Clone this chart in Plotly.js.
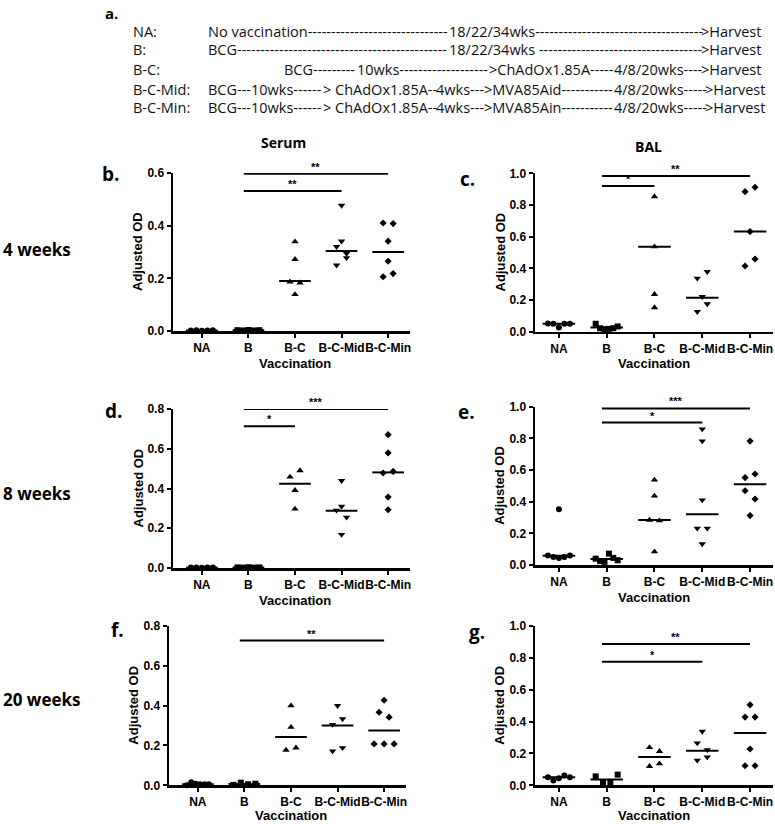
<!DOCTYPE html>
<html>
<head>
<meta charset="utf-8">
<script src="https://cdn.plot.ly/plotly-3.0.1.min.js"></script>
<style>body{margin:0;background:#fff}</style>
</head>
<body>
<div id="chart" style="width:775px;height:824px"></div>
<script>
const categories = ['NA', 'B', 'B-C', 'B-C-Mid', 'B-C-Min'];

// values of each group, listed left to right as they sit in the panel
const serum4wk = [
  [0.002, 0.003, 0.001, 0.002, 0.003],
  [0.003, 0.002, 0.004, 0.002, 0.003],
  [0.339, 0.272, 0.187, 0.183, 0.139],
  [0.477, 0.341, 0.32, 0.294, 0.25, 0.278],
  [0.41, 0.408, 0.341, 0.265, 0.206, 0.218]
];
const serum4wkMedian = [0.002, 0.003, 0.19, 0.304, 0.30];
const serum4wkSig = [[1, 4, 0.597, '**'], [1, 3, 0.532, '**']];

const bal4wk = [
  [0.052, 0.05, 0.027, 0.05, 0.05],
  [0.05, 0.022, 0.015, 0.018, 0.022, 0.033],
  [0.853, 0.537, 0.236, 0.152],
  [0.337, 0.379, 0.221, 0.126, 0.175],
  [0.884, 0.912, 0.632, 0.415, 0.459]
];
const bal4wkMedian = [0.05, 0.027, 0.537, 0.215, 0.632];
const bal4wkSig = [[1, 4, 0.983, '**'], [1, 2, 0.92, '*']];

const serum8wk = [
  [0.002, 0.003, 0.001, 0.003, 0.002],
  [0.003, 0.002, 0.004, 0.002, 0.003],
  [0.458, 0.49, 0.391, 0.297],
  [0.439, 0.31, 0.29, 0.255, 0.168],
  [0.671, 0.579, 0.478, 0.486, 0.357, 0.293]
];
const serum8wkMedian = [0.002, 0.003, 0.424, 0.288, 0.481];
const serum8wkSig = [[1, 4, 0.80, '***'], [1, 2, 0.713, '*']];

const bal8wk = [
  [0.352, 0.06, 0.05, 0.045, 0.05, 0.06],
  [0.04, 0.025, 0.02, 0.072, 0.045, 0.03],
  [0.537, 0.436, 0.284, 0.28, 0.084],
  [0.859, 0.783, 0.41, 0.232, 0.232, 0.133],
  [0.783, 0.552, 0.575, 0.469, 0.417, 0.312]
];
const bal8wkMedian = [0.058, 0.038, 0.284, 0.32, 0.51];
const bal8wkSig = [[1, 4, 0.989, '***'], [1, 3, 0.90, '*']];

const serum20wk = [
  [0.0, 0.015, 0.008, 0.005, 0.005, 0.005],
  [0.002, 0.013, 0.005, 0.008],
  [0.40, 0.292, 0.177, 0.188],
  [0.40, 0.305, 0.333, 0.172, 0.188],
  [0.427, 0.367, 0.342, 0.208, 0.208, 0.208]
];
const serum20wkMedian = [0.005, 0.006, 0.242, 0.30, 0.275];
const serum20wkSig = [[1, 4, 0.727, '**']];

const bal20wk = [
  [0.05, 0.03, 0.045, 0.062, 0.05],
  [0.056, 0.019, 0.019, 0.067],
  [0.238, 0.213, 0.119, 0.136],
  [0.338, 0.265, 0.223, 0.157, 0.177],
  [0.505, 0.428, 0.428, 0.228, 0.123, 0.123]
];
const bal20wkMedian = [0.05, 0.036, 0.177, 0.217, 0.328];
const bal20wkSig = [[1, 4, 0.887, '**'], [1, 3, 0.775, '*']];

const rowLabels = ['NA:', 'B:', 'B-C:', 'B-C-Mid:', 'B-C-Min:'];
const schedules = [
  ['No vaccination', '18/22/34wks', '>Harvest'],
  ['BCG', '18/22/34wks ', '>Harvest'],
  ['BCG', '10wks', '>ChAdOx1.85A', '4/8/20wks', '>Harvest'],
  ['BCG', '10wks', '> ChAdOx1.85A', '4wks', '>MVA85Aid', '4/8/20wks', '>Harvest'],
  ['BCG', '10wks', '> ChAdOx1.85A', '4wks', '>MVA85Ain', '4/8/20wks', '>Harvest']
];
const timepoints = ['4 weeks', '8 weeks', '20 weeks'];
const sampleTypes = ['Serum', 'BAL'];

const W = 775, H = 824;
const px = x => x / W;
const py = y => 1 - y / H;

const symbols = ['circle', 'square', 'triangle-up', 'triangle-down', 'diamond'];
const sizes = [6, 6, 6.5, 6.5, 5.5];
const tickFont = {family: 'Liberation Sans, Arial, sans-serif', size: 12, color: '#000', weight: 700};
const boldSans = {family: 'Open Sans, sans-serif', color: '#000', weight: 700};

const panels = [
  {vals: serum4wk, med: serum4wkMedian, sig: serum4wkSig, top: 0.6, box: [173, 410, 173, 331], xr: [-0.62, 4.47], letter: 'b.', lx: 100, ly: 173.5},
  {vals: bal4wk, med: bal4wkMedian, sig: bal4wkSig, top: 1.0, box: [535, 773, 173.3, 331.7], xr: [-0.5, 4.48], letter: 'c.', lx: 458, ly: 178.5},
  {vals: serum8wk, med: serum8wkMedian, sig: serum8wkSig, top: 0.8, box: [173, 410, 409, 568], xr: [-0.62, 4.47], letter: 'd.', lx: 103, ly: 410.5},
  {vals: bal8wk, med: bal8wkMedian, sig: bal8wkSig, top: 1.0, box: [535, 773, 406.7, 565], xr: [-0.5, 4.48], letter: 'e.', lx: 456, ly: 411.5},
  {vals: serum20wk, med: serum20wkMedian, sig: serum20wkSig, top: 0.8, box: [169, 406, 626, 785.3], xr: [-0.62, 4.47], letter: 'f.', lx: 109, ly: 629.5},
  {vals: bal20wk, med: bal20wkMedian, sig: bal20wkSig, top: 1.0, box: [535, 773, 626, 785.3], xr: [-0.5, 4.48], letter: 'g.', lx: 467, ly: 631.5}
];

// spread points that share a level side by side, like the prism scatter
function spread(vals, pxY) {
  const order = vals.map((v, k) => k).sort((a, b) => vals[a] - vals[b]);
  const rows = [];
  order.forEach(k => {
    const row = rows[rows.length - 1];
    if (row && (vals[k] - vals[row[0]]) * pxY <= 9) row.push(k);
    else rows.push([k]);
  });
  const off = new Array(vals.length).fill(0);
  rows.forEach(row => {
    row.sort((a, b) => a - b);
    const step = row.length > 1 ? Math.min(10, 22 / (row.length - 1)) : 0;
    row.forEach((k, j) => { off[k] = (j - (row.length - 1) / 2) * step; });
  });
  return off;
}

const traces = [];
const annotations = [];
const layout = {
  width: W, height: H,
  margin: {l: 0, r: 0, t: 0, b: 0},
  paper_bgcolor: '#fff', plot_bgcolor: 'rgba(0,0,0,0)',
  showlegend: false,
  annotations: annotations
};

function note(text, x, y, font, extra) {
  annotations.push(Object.assign({
    text: text, xref: 'paper', yref: 'paper', x: px(x), y: py(y),
    showarrow: false, xanchor: 'center', yanchor: 'middle', font: font
  }, extra || {}));
}

panels.forEach((p, i) => {
  const sfx = i === 0 ? '' : String(i + 1);
  const xa = 'x' + sfx, ya = 'y' + sfx;
  const [l, r, t, b] = p.box;
  const pxX = (r - l) / (p.xr[1] - p.xr[0]);
  const pxY = (b - t) / p.top;

  p.vals.forEach((vals, g) => {
    const off = spread(vals, pxY);
    traces.push({
      type: 'scatter', mode: 'markers', xaxis: xa, yaxis: ya,
      x: off.map(o => g + o / pxX), y: vals, cliponaxis: false, hoverinfo: 'skip',
      marker: {symbol: symbols[g], size: sizes[g], color: '#000'}
    });
  });

  const mx = [], my = [];
  p.med.forEach((m, g) => { mx.push(g - 0.34, g + 0.34, null); my.push(m, m, null); });
  traces.push({type: 'scatter', mode: 'lines', xaxis: xa, yaxis: ya, x: mx, y: my,
    cliponaxis: false, hoverinfo: 'skip', line: {color: '#000', width: 2}});

  p.sig.forEach(([from, to, h, stars]) => {
    traces.push({type: 'scatter', mode: 'lines', xaxis: xa, yaxis: ya,
      x: [from - 0.1, to], y: [h, h], cliponaxis: false, hoverinfo: 'skip',
      line: {color: '#000', width: 2}});
    annotations.push({text: stars, xref: xa, yref: ya, x: (from - 0.1 + to) / 2, y: h,
      showarrow: false, xanchor: 'center', yanchor: 'bottom', yshift: -1,
      font: {family: 'Liberation Sans, Arial, sans-serif', size: 11, color: '#000', weight: 700}});
  });

  layout['xaxis' + sfx] = {
    domain: [px(l), px(r)], range: p.xr, anchor: ya,
    showline: true, linecolor: '#000', linewidth: 2.5,
    ticks: 'outside', ticklen: 4, tickwidth: 2, tickcolor: '#000',
    tickmode: 'array', tickvals: [0, 1, 2, 3, 4], ticktext: categories, tickangle: 0,
    tickfont: tickFont, showgrid: false, zeroline: false, fixedrange: true
  };
  layout['yaxis' + sfx] = {
    domain: [py(b), py(t)], range: [0, p.top], anchor: xa,
    showline: true, linecolor: '#000', linewidth: 2.5,
    ticks: 'outside', ticklen: 4, tickwidth: 2, tickcolor: '#000',
    tick0: 0, dtick: 0.2, tickformat: '.1f',
    tickfont: tickFont, showgrid: false, zeroline: false, fixedrange: true
  };

  note('Adjusted OD', l - 35, (t + b) / 2, {family: 'Liberation Sans, Arial, sans-serif', size: 13, color: '#000', weight: 700}, {textangle: -90});
  // bottom row: keep the axis title inside the page
  const vy = b + 32 > H - 10 ? {y: 0, yanchor: 'bottom'} : {};
  note('Vaccination', l + (2 - p.xr[0]) * pxX, b + 32, {family: 'Liberation Sans, Arial, sans-serif', size: 13, color: '#000', weight: 700}, Object.assign({borderpad: 0}, vy));
  note(p.letter, p.lx, p.ly, Object.assign({size: 19}, boldSans), {xanchor: 'left'});
});

// row and column headings
note(sampleTypes[0], 283, 142, Object.assign({size: 14}, boldSans));
note(sampleTypes[1], 648, 147, Object.assign({size: 14}, boldSans));
[249, 494, 699].forEach((y, k) => note(timepoints[k], 1, y, Object.assign({size: 17}, boldSans), {xanchor: 'left'}));

// panel a: vaccination schedules, dashes fill the gaps between fixed stops
const headSize = 14.5;
const headFont = {family: 'Open Sans, sans-serif', size: headSize, color: '#111'};
const ctx = document.createElement('canvas').getContext('2d');
ctx.font = headSize + 'px "Open Sans"';
const dashW = ctx.measureText('-').width;
const rowY = [31.7, 50, 70, 89, 107.3];
const stops = [
  [206, 447, 699],
  [206, 447, 699],
  [282, 355, 487, 612, 699],
  [206, 249, 321, 434, 482, 612, 703],
  [206, 249, 321, 434, 482, 612, 703]
];
note('a.', 103, 1, Object.assign({size: 15}, boldSans), {xanchor: 'left', yanchor: 'top'});
rowLabels.forEach((lab, r) => {
  note(lab, 131, rowY[r], headFont, {xanchor: 'left'});
  schedules[r].forEach((word, k) => {
    let txt = word;
    if (k < schedules[r].length - 1) {
      const gap = stops[r][k + 1] - stops[r][k] - ctx.measureText(word).width;
      txt += '-'.repeat(Math.max(0, Math.round(gap / dashW)));
    }
    note(txt, stops[r][k], rowY[r], headFont, {xanchor: 'left'});
  });
});

Plotly.newPlot('chart', traces, layout, {staticPlot: true});
</script>
</body>
</html>
